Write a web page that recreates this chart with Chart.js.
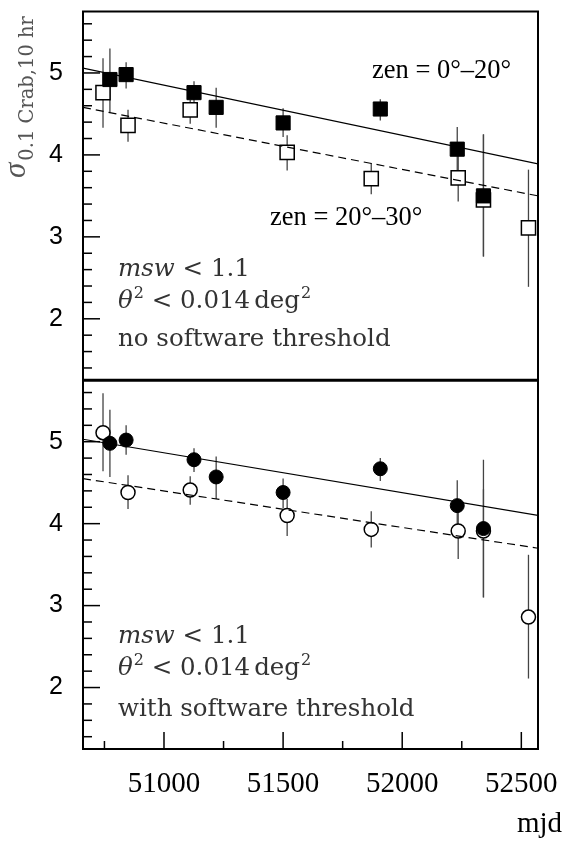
<!DOCTYPE html>
<html><head><meta charset="utf-8">
<script src="https://cdn.jsdelivr.net/npm/chart.js@4"></script>
<style>html,body{margin:0;padding:0;background:#fff}canvas{display:block}</style>
</head><body>
<canvas id="c" width="571" height="841"></canvas>
<script>
// ---- data ----
const filledMjd = [50773, 50841, 51126, 51219, 51500, 51908, 52231, 52341];
const openMjd   = [50744, 50849, 51110, 51517, 51870, 52235, 52341, 52530];

// top panel: no software threshold (squares)
const topFilledSigma = [4.92, 4.98, 4.76, 4.58, 4.39, 4.56, 4.07, 3.50];
const topFilledLo    = [4.52, 4.81, 4.61, 4.33, 4.22, 4.42, 3.80, 2.76];
const topFilledHi    = [5.30, 5.13, 4.90, 4.82, 4.57, 4.68, 4.34, 4.25];
const topOpenSigma   = [4.76, 4.36, 4.55, 4.03, 3.71, 3.72, 3.45, 3.11];
const topOpenLo      = [4.33, 4.16, 4.38, 3.81, 3.52, 3.43, 2.76, 2.39];
const topOpenHi      = [5.18, 4.55, 4.67, 4.24, 3.90, 4.02, 4.25, 3.82];

// bottom panel: with software threshold (circles)
const botFilledSigma = [4.98, 5.02, 4.78, 4.57, 4.38, 4.67, 4.22, 3.94];
const botFilledLo    = [4.57, 4.84, 4.63, 4.30, 4.19, 4.52, 3.90, 3.10];
const botFilledHi    = [5.39, 5.20, 4.92, 4.82, 4.55, 4.80, 4.53, 4.78];
const botOpenSigma   = [5.11, 4.38, 4.41, 4.10, 3.93, 3.91, 3.91, 2.86];
const botOpenLo      = [4.64, 4.18, 4.23, 3.85, 3.71, 3.57, 3.10, 2.11];
const botOpenHi      = [5.59, 4.59, 4.58, 4.30, 4.15, 4.20, 4.42, 3.62];

// linear fits (end points)
const fitMjd       = [50660, 52570];
const topFitSolid  = [5.06, 3.89];
const topFitDashed = [4.58, 3.50];
const botFitSolid  = [5.03, 4.10];
const botFitDashed = [4.55, 3.70];

// axes
const xMin = 50660, xMax = 52570, xStep = 250, xMajor = 500;
const yMin = 1.25, yMax = 5.75, yStep = 0.2;

const pts = (xs, ys) => xs.map((x, i) => ({x, y: ys[i]}));

function markerSet(xs, ys, lo, hi, axis, style, filled, order) {
  const isRect = style === 'rect';
  return {
    data: pts(xs, ys), yAxisID: axis, xAxisID: 'x',
    pointStyle: style, pointRadius: isRect ? 10 : 7, pointHoverRadius: isRect ? 10 : 7,
    backgroundColor: filled ? '#000' : '#fff', borderColor: '#000',
    pointBorderWidth: filled ? 1 : 1.5, borderWidth: filled ? 1 : 1.5,
    showLine: false, order: order, errX: xs, errLo: lo, errHi: hi
  };
}
function fitSet(ys, axis, dashed) {
  return {
    data: pts(fitMjd, ys), yAxisID: axis, xAxisID: 'x', showLine: true,
    pointRadius: 0, pointHoverRadius: 0, borderColor: '#000', borderWidth: 1.2,
    borderDash: dashed ? [8, 5] : [], fill: false, order: 0
  };
}

const errorBars = {
  id: 'errorBars',
  beforeDatasetsDraw(chart) {
    const ctx = chart.ctx, xs = chart.scales.x;
    ctx.save();
    ctx.strokeStyle = '#444'; ctx.lineWidth = 1.3;
    chart.data.datasets.forEach(ds => {
      if (!ds.errLo) return;
      const ys = chart.scales[ds.yAxisID];
      ds.errX.forEach((m, i) => {
        const px = xs.getPixelForValue(m);
        ctx.beginPath();
        ctx.moveTo(px, ys.getPixelForValue(ds.errLo[i]));
        ctx.lineTo(px, ys.getPixelForValue(ds.errHi[i]));
        ctx.stroke();
      });
    });
    ctx.restore();
  }
};

function drawRuns(ctx, runs, x, y) {
  for (const r of runs) {
    ctx.font = r.font;
    ctx.fillText(r.t, x, y - (r.dy || 0));
    x += ctx.measureText(r.t).width + (r.gap || 0);
  }
}

const frameAndText = {
  id: 'frameAndText',
  afterDraw(chart) {
    const ctx = chart.ctx, a = chart.chartArea;
    const xs = chart.scales.x, yT = chart.scales.yTop, yB = chart.scales.yBot;
    ctx.save();
    // ticks
    ctx.strokeStyle = '#000'; ctx.lineWidth = 1.5;
    [yT, yB].forEach(s => {
      s.ticks.forEach(t => {
        const py = s.getPixelForValue(t.value);
        const major = Math.abs(t.value - Math.round(t.value)) < 1e-6;
        ctx.beginPath(); ctx.moveTo(a.left, py); ctx.lineTo(a.left + (major ? 17 : 9), py); ctx.stroke();
      });
    });
    xs.ticks.forEach(t => {
      const px = xs.getPixelForValue(t.value);
      const major = Math.abs(t.value % xMajor) < 1e-6;
      ctx.beginPath(); ctx.moveTo(px, a.bottom); ctx.lineTo(px, a.bottom - (major ? 17 : 8)); ctx.stroke();
    });
    // frame
    ctx.lineWidth = 2;
    ctx.strokeRect(a.left, a.top, a.right - a.left, a.bottom - a.top);
    ctx.lineWidth = 3;
    ctx.beginPath(); ctx.moveTo(a.left - 1, yT.bottom); ctx.lineTo(a.right + 1, yT.bottom); ctx.stroke();

    // zenith labels
    ctx.fillStyle = '#000';
    ctx.textBaseline = 'alphabetic'; ctx.textAlign = 'left';
    ctx.font = '26.5px "Liberation Serif", serif';
    ctx.fillText('zen = 0°–20°', 372, 78);
    ctx.fillText('zen = 20°–30°', 270, 225);

    // cut labels
    const F = '24.5px "DejaVu Serif"', FI = 'italic 24.5px "DejaVu Serif"', FS = '16px "DejaVu Serif"';
    ctx.fillStyle = '#333';
    const blocks = [
      {base: [276, 308, 346], last: 'no software threshold'},
      {base: [643, 675, 716], last: 'with software threshold'}
    ];
    blocks.forEach(b => {
      drawRuns(ctx, [{t: 'msw', font: FI}, {t: ' < 1.1', font: F}], 118, b.base[0]);
      drawRuns(ctx, [{t: 'θ', font: FI, gap: 1}, {t: '2', font: FS, dy: 10}, {t: ' < 0.014', font: F, gap: 4},
                     {t: 'deg', font: F, gap: 1}, {t: '2', font: FS, dy: 10}], 118, b.base[1]);
      drawRuns(ctx, [{t: b.last, font: F}], 118, b.base[2]);
    });

    // y-axis title
    ctx.fillStyle = '#555';
    ctx.save();
    ctx.translate(25, 178);
    ctx.rotate(-Math.PI / 2);
    ctx.font = 'italic 31px "Liberation Serif", serif';
    ctx.fillText('σ', 0, 0);
    const w = ctx.measureText('σ').width;
    ctx.font = '19.5px "DejaVu Serif"';
    ctx.fillText('0.1 Crab,10 hr', w + 2, 8);
    ctx.restore();

    // x-axis title
    ctx.fillStyle = '#000';
    ctx.font = '29px "Liberation Serif", serif';
    ctx.textAlign = 'right';
    ctx.fillText('mjd', 562, 832);
    ctx.restore();
  }
};

const yAxis = (weight) => ({
  type: 'linear', position: 'left', stack: 'panels', stackWeight: 1, weight: weight,
  min: yMin, max: yMax,
  ticks: {
    stepSize: yStep, includeBounds: false, autoSkip: false, maxTicksLimit: 1000,
    padding: 20, color: '#000', font: {family: '"Liberation Sans", Arial, sans-serif', size: 25},
    callback: v => Math.abs(v - Math.round(v)) < 1e-6 ? String(Math.round(v)) : ''
  },
  grid: {display: true, drawOnChartArea: false, drawTicks: false, color: 'rgba(0,0,0,0)'},
  border: {display: false},
  afterFit: s => { s.width = 83; s.paddingTop = 0; s.paddingBottom = 0; s.paddingLeft = 0; s.paddingRight = 0; }
});

new Chart(document.getElementById('c'), {
  type: 'scatter',
  data: {
    datasets: [
      fitSet(topFitSolid, 'yTop', false),
      fitSet(topFitDashed, 'yTop', true),
      fitSet(botFitSolid, 'yBot', false),
      fitSet(botFitDashed, 'yBot', true),
      markerSet(filledMjd, topFilledSigma, topFilledLo, topFilledHi, 'yTop', 'rect', true, 1),
      markerSet(openMjd, topOpenSigma, topOpenLo, topOpenHi, 'yTop', 'rect', false, 2),
      markerSet(filledMjd, botFilledSigma, botFilledLo, botFilledHi, 'yBot', 'circle', true, 1),
      markerSet(openMjd, botOpenSigma, botOpenLo, botOpenHi, 'yBot', 'circle', false, 2)
    ]
  },
  options: {
    responsive: false, animation: false, events: [],
    layout: {padding: {top: 5, right: 33, bottom: 0, left: 0}},
    plugins: {legend: {display: false}, tooltip: {enabled: false}, title: {display: false}},
    scales: {
      x: {
        type: 'linear', position: 'bottom', min: xMin, max: xMax,
        ticks: {
          stepSize: xStep, includeBounds: false, autoSkip: false, maxTicksLimit: 1000, maxRotation: 0,
          padding: 18, color: '#000', font: {family: '"Liberation Serif", "Times New Roman", serif', size: 29},
          callback: v => Math.abs(v % xMajor) < 1e-6 ? String(v) : ''
        },
        grid: {display: true, drawOnChartArea: false, drawTicks: false, color: 'rgba(0,0,0,0)'},
        border: {display: false},
        afterFit: s => { s.height = 92; s.paddingTop = 0; s.paddingBottom = 0; s.paddingLeft = 0; s.paddingRight = 0; }
      },
      yBot: yAxis(0),
      yTop: yAxis(1)
    }
  },
  plugins: [errorBars, frameAndText]
});
</script>
</body></html>
